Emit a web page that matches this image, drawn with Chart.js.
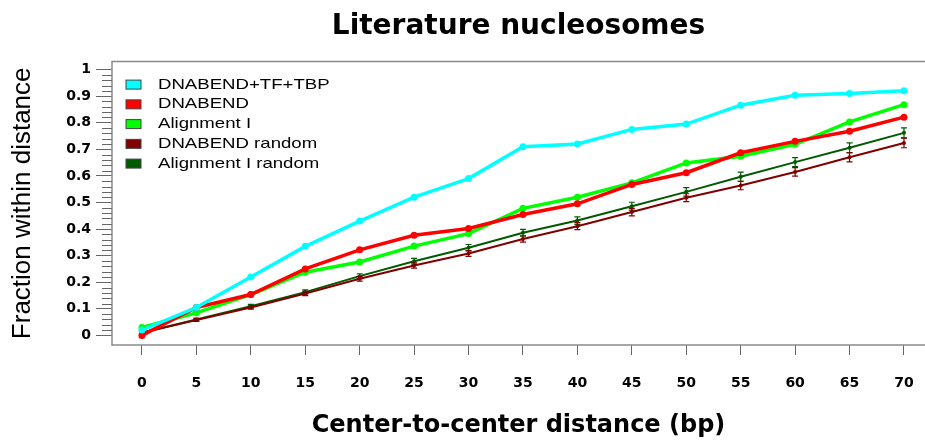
<!DOCTYPE html>
<html>
<head>
<meta charset="utf-8">
<script src="https://cdn.jsdelivr.net/npm/chart.js@4.4.0/dist/chart.umd.min.js"></script>
<style>
html, body { margin: 0; padding: 0; background: #fff; }
#wrap { width: 925px; height: 444px; position: relative; }
</style>
</head>
<body>
<div id="wrap"><canvas id="lineChart"></canvas></div>
<script>
// Distances on the x axis (bp)
const distances = [0, 5, 10, 15, 20, 25, 30, 35, 40, 45, 50, 55, 60, 65, 70];

// Fraction within distance for each method
const dnabendTfTbp = [0.02, 0.105, 0.22, 0.335, 0.43, 0.52, 0.59, 0.71, 0.72, 0.775, 0.795, 0.866, 0.903, 0.91, 0.92];
const dnabend = [0.0, 0.105, 0.154, 0.25, 0.322, 0.377, 0.402, 0.455, 0.495, 0.568, 0.612, 0.687, 0.73, 0.768, 0.821];
const alignmentI = [0.03, 0.085, 0.154, 0.238, 0.276, 0.336, 0.383, 0.478, 0.52, 0.574, 0.649, 0.674, 0.719, 0.803, 0.868];
const dnabendRandom = [0.01, 0.058, 0.105, 0.158, 0.213, 0.263, 0.308, 0.363, 0.411, 0.464, 0.518, 0.564, 0.615, 0.67, 0.724];
const alignmentIRandom = [0.01, 0.06, 0.11, 0.163, 0.223, 0.279, 0.33, 0.386, 0.432, 0.486, 0.54, 0.597, 0.652, 0.706, 0.762];

// Error bar half-widths for the random sets
const dnabendRandomErr = [0.004, 0.005, 0.006, 0.008, 0.009, 0.01, 0.011, 0.012, 0.013, 0.014, 0.015, 0.016, 0.016, 0.017, 0.018];
const alignmentIRandomErr = [0.004, 0.005, 0.007, 0.008, 0.009, 0.011, 0.012, 0.013, 0.014, 0.015, 0.016, 0.017, 0.017, 0.018, 0.019];

// Tick labels
const xTicks = [0, 5, 10, 15, 20, 25, 30, 35, 40, 45, 50, 55, 60, 65, 70];
const yTicks = [0, 0.1, 0.2, 0.3, 0.4, 0.5, 0.6, 0.7, 0.8, 0.9, 1];

const toPoints = arr => distances.map((d, i) => ({ x: d, y: arr[i] }));

function series(label, values, color, width, radius, errors) {
    return {
        label: label,
        data: toPoints(values),
        borderColor: color,
        backgroundColor: color,
        borderWidth: width,
        pointRadius: radius,
        pointBorderWidth: 0,
        pointBackgroundColor: color,
        tension: 0,
        errors: errors
    };
}

// Frame, minor ticks, error bars and the legend inside the plot
const decorations = {
    id: 'decorations',
    beforeDatasetsDraw(chart) {
        const { ctx, chartArea: a } = chart;
        ctx.save();
        ctx.strokeStyle = '#8a8a8a';
        ctx.lineWidth = 1.5;
        ctx.beginPath();
        ctx.moveTo(a.right + 5, a.top);
        ctx.lineTo(a.left, a.top);
        ctx.lineTo(a.left, a.bottom);
        ctx.lineTo(a.right + 5, a.bottom);
        ctx.stroke();
        // minor y ticks every 0.02
        const y = chart.scales.y;
        ctx.strokeStyle = '#666';
        ctx.lineWidth = 1;
        ctx.beginPath();
        for (let k = 0; k <= 50; k++) {
            if (k % 5 === 0) continue;
            const py = Math.round(y.getPixelForValue(k * 0.02)) + 0.5;
            ctx.moveTo(a.left - 10, py);
            ctx.lineTo(a.left, py);
        }
        ctx.stroke();
        ctx.restore();
    },
    afterDatasetDraw(chart, args) {
        const ds = chart.data.datasets[args.index];
        if (!ds.errors) return;
        const { ctx } = chart;
        const xs = chart.scales.x, ys = chart.scales.y;
        ctx.save();
        ctx.strokeStyle = ds.borderColor;
        ctx.lineWidth = 1.2;
        ctx.beginPath();
        ds.data.forEach((p, i) => {
            const px = xs.getPixelForValue(p.x);
            const top = ys.getPixelForValue(p.y + ds.errors[i]);
            const bot = ys.getPixelForValue(p.y - ds.errors[i]);
            ctx.moveTo(px, top); ctx.lineTo(px, bot);
            ctx.moveTo(px - 3, top); ctx.lineTo(px + 3, top);
            ctx.moveTo(px - 3, bot); ctx.lineTo(px + 3, bot);
        });
        ctx.stroke();
        ctx.restore();
    },
    afterDraw(chart) {
        const { ctx, chartArea: a } = chart;
        ctx.save();
        ctx.font = '15px "Liberation Sans", Arial, sans-serif';
        ctx.textBaseline = 'middle';
        chart.data.datasets.forEach((ds, i) => {
            const cy = a.top + 23 + i * 19.75;
            ctx.fillStyle = ds.borderColor;
            ctx.fillRect(a.left + 14, cy - 4.5, 15, 9);
            ctx.strokeStyle = '#444';
            ctx.lineWidth = 1;
            ctx.strokeRect(a.left + 14, cy - 4.5, 15, 9);
            ctx.save();
            ctx.translate(a.left + 46, cy);
            ctx.scale(1.24, 1);
            ctx.fillStyle = '#000';
            ctx.fillText(ds.label, 0, 0);
            ctx.restore();
        });
        ctx.restore();
    }
};

const ctx = document.getElementById('lineChart').getContext('2d');

const lineChart = new Chart(ctx, {
    type: 'line',
    data: {
        datasets: [
            series('DNABEND+TF+TBP', dnabendTfTbp, '#00ffff', 3.5, 3.5),
            series('DNABEND', dnabend, '#ff0000', 3.5, 3.5),
            series('Alignment I', alignmentI, '#00ff00', 3.5, 3.5),
            series('DNABEND random', dnabendRandom, '#800000', 2, 2, dnabendRandomErr),
            series('Alignment I random', alignmentIRandom, '#005a00', 2, 2, alignmentIRandomErr)
        ]
    },
    plugins: [decorations],
    options: {
        responsive: true,
        maintainAspectRatio: false,
        animation: false,
        layout: { padding: 0, autoPadding: false },
        plugins: {
            legend: { display: false },
            tooltip: { enabled: false },
            title: {
                display: true,
                fullSize: false,
                text: 'Literature nucleosomes',
                color: '#000',
                font: { family: 'DejaVu Sans', weight: 'bold', size: 28 },
                padding: { top: 10, bottom: 18 }
            }
        },
        scales: {
            x: {
                type: 'linear',
                min: -2.75,
                max: 71.93,
                afterBuildTicks: s => { s.ticks = xTicks.map(v => ({ value: v })); },
                afterFit: s => { s.height = 99; s.paddingLeft = 0; s.paddingRight = 0; },
                border: { display: false },
                grid: { drawOnChartArea: false, tickLength: 10, tickColor: '#666' },
                ticks: {
                    padding: 20,
                    color: '#000',
                    maxRotation: 0,
                    font: { family: 'DejaVu Sans', weight: 'bold', size: 14 },
                    callback: v => String(v)
                },
                title: {
                    display: true,
                    text: 'Center-to-center distance (bp)',
                    color: '#000',
                    font: { family: 'DejaVu Sans', weight: 'bold', size: 24 },
                    padding: { top: 0, bottom: 4 }
                }
            },
            y: {
                type: 'linear',
                min: -0.036,
                max: 1.03,
                afterBuildTicks: s => { s.ticks = yTicks.map(v => ({ value: v })); },
                afterFit: s => { s.width = 112; },
                border: { display: false },
                grid: { drawOnChartArea: false, tickLength: 16, tickColor: '#666' },
                ticks: {
                    padding: 5,
                    color: '#000',
                    font: { family: 'DejaVu Sans', weight: 'bold', size: 14 },
                    callback: v => String(Number(v.toFixed(1)))
                },
                title: {
                    display: true,
                    text: 'Fraction within distance',
                    color: '#000',
                    font: { family: 'Liberation Sans', size: 26 },
                    padding: { top: 7, bottom: 0 }
                }
            }
        }
    }
});
</script>
</body>
</html>
